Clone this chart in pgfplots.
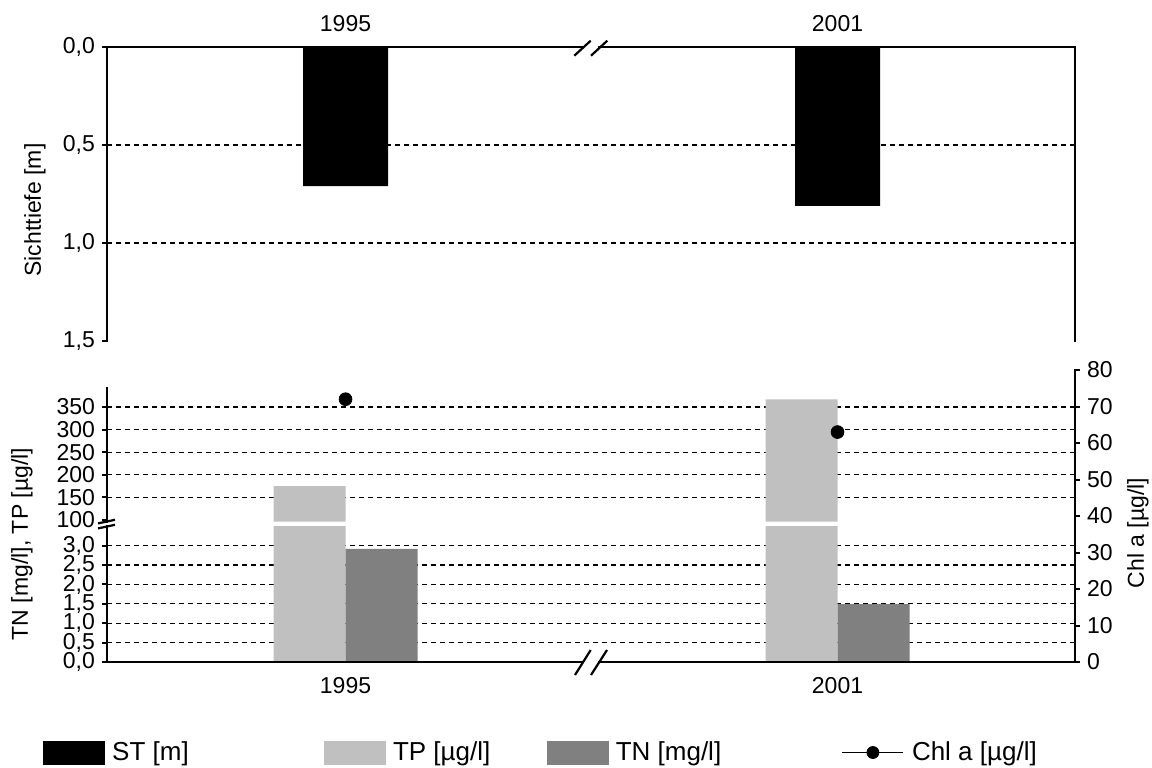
\documentclass[border=0pt]{standalone}
\usepackage{pgfplots}
\pgfplotsset{compat=1.18}
\usepackage{pgfplotstable}
\usepackage{fontspec}
\setmainfont{Liberation Sans}
\definecolor{tpgray}{HTML}{C0C0C0}
\definecolor{tngray}{HTML}{808080}

\pgfplotstableread{
x ST TP TN Chl
0 0.71 175 2.92 72
1 0.81 367 1.49 63
}\datatable

\pgfplotsset{
 base/.style={
  scale only axis, width=484pt, xmin=-0.4848, xmax=1.4827,
  axis line style={draw=none},
  tick align=outside,
  major tick length=2.5pt,
  tick style={black, line width=1pt},
  xtick style={draw=none},
  ticklabel style={font=\fontsize{11.5}{12}\selectfont},
  major grid style={black, line width=0.6pt, dash pattern=on 2.5pt off 2pt},
  extra y tick style={grid=major, major tick length=0pt},
  extra y tick labels={},
  anchor=south west,
 },
}

\begin{document}
\begin{tikzpicture}
\useasboundingbox (0,0) rectangle (576pt,383.5pt);

% ---- top panel: Sichttiefe
\begin{axis}[base, at={(53.5pt,213pt)}, height=147pt,
 y dir=reverse, ymin=0, ymax=1.5,
 ytick={0,0.5,1,1.5}, yticklabels={{0,0},{0,5},{1,0},{1,5}}, ytick pos=left,
 xtick={0,1}, xticklabels={1995,2001}, xticklabel pos=right,
 xticklabel style={yshift=1.5pt},
 extra y ticks={0.5,1},
 ybar, bar width=42.5pt]
\addplot[fill=black, draw=none] table[x=x,y=ST]{\datatable};
\end{axis}

% ---- bottom panel: lower segment (TN, mg/l)
\begin{axis}[base, at={(53.5pt,52.5pt)}, height=67.85pt,
 ymin=0, ymax=3.5,
 ytick={0,0.5,1,1.5,2,2.5,3},
 yticklabels={{0,0},{0,5},{1,0},{1,5},{2,0},{2,5},{3,0}}, ytick pos=left,
 extra y ticks={0.5,1,1.5,2,2.5,3},
 xtick={0,1}, xticklabels={1995,2001}, xtick pos=left,
 xticklabel style={yshift=-1.8pt},
 ybar, bar width=36pt]
\addplot[fill=tpgray, draw=none, bar shift=-18pt] table[x=x,y=TP]{\datatable};
\addplot[fill=tngray, draw=none, bar shift=18pt] table[x=x,y=TN]{\datatable};
\end{axis}

% ---- bottom panel: upper segment (TP, ug/l)
\begin{axis}[base, at={(53.5pt,122.65pt)}, height=66.85pt,
 ymin=96.2, ymax=392,
 ytick={100,150,200,250,300,350},
 yticklabels={100,150,200,250,300,350}, ytick pos=left,
 extra y ticks={150,200,250,300,350},
 xtick=\empty,
 ybar, bar width=36pt]
\addplot[fill=tpgray, draw=none, bar shift=-18pt] table[x=x,y=TP]{\datatable};
\end{axis}

% ---- bottom panel: Chl a (right axis) + legend
\begin{axis}[base, at={(53.5pt,52.5pt)}, height=146pt,
 ymin=0, ymax=80,
 ytick={0,10,20,30,40,50,60,70,80},
 yticklabels={0,10,20,30,40,50,60,70,80},
 ytick pos=right, yticklabel pos=right,
 xtick=\empty, clip=false,
 legend columns=4, legend cell align=left,
 legend style={at={(-0.0661,-0.3099)}, anchor=west, draw=none, fill=none,
   inner sep=0pt, column sep=0pt, nodes={inner sep=0pt},
   font=\fontsize{13}{14}\selectfont}]
\addplot[only marks, mark=*, mark size=3.2pt, black, forget plot] table[x=x,y=Chl]{\datatable};
\addlegendimage{legend image code/.code={\fill[black] (0pt,-5.75pt) rectangle (30.5pt,5.75pt);}}
\addlegendentry{\hspace{3.5pt}\makebox[106pt][l]{ST [m]}}
\addlegendimage{legend image code/.code={\fill[tpgray] (0pt,-5.75pt) rectangle (30.5pt,5.75pt);}}
\addlegendentry{\hspace{3.5pt}\makebox[77pt][l]{TP [µg/l]}}
\addlegendimage{legend image code/.code={\fill[tngray] (0pt,-5.75pt) rectangle (30.5pt,5.75pt);}}
\addlegendentry{\hspace{3.5pt}\makebox[113pt][l]{TN [mg/l]}}
\addlegendimage{legend image code/.code={\draw[black, line width=0.6pt] (0pt,0pt) -- (30.5pt,0pt); \fill[black] (15.25pt,0pt) circle (3pt);}}
\addlegendentry{\hspace{4pt}Chl a [µg/l]}
\end{axis}

% ---- axis lines with breaks
\begin{scope}[line width=1.4pt, line cap=rect]
 % top panel
 \draw (53.5pt,213pt) -- (53.5pt,360pt) -- (291.5pt,360pt);
 \draw (299.5pt,360pt) -- (537.5pt,360pt) -- (537.5pt,213pt);
 % bottom panel
 \draw (53.5pt,120.15pt) -- (53.5pt,52.5pt) -- (291.5pt,52.5pt);
 \draw (299.5pt,52.5pt) -- (537.5pt,52.5pt) -- (537.5pt,198.5pt);
 \draw (53.5pt,122.65pt) -- (53.5pt,189.5pt);
\end{scope}
\begin{scope}[line width=1.1pt]
 \draw (287.15pt,355.65pt) -- (295.35pt,363.15pt);
 \draw (295.5pt,355.65pt) -- (303.65pt,363.15pt);
 \draw (287.5pt,46pt) -- (295.35pt,58.5pt);
 \draw (295.5pt,46pt) -- (303.5pt,58.5pt);
 \draw (49pt,121.8pt) -- (57.5pt,123.6pt);
 \draw (49pt,119.3pt) -- (57.5pt,121.1pt);
\end{scope}

% ---- axis titles
\node[rotate=90, font=\fontsize{11.5}{12}\selectfont] at (17.5pt,278.5pt) {Sichttiefe [m]};
\node[rotate=90, font=\fontsize{11.5}{12}\selectfont] at (11pt,111.5pt) {TN [mg/l], TP [µg/l]};
\node[rotate=90, font=\fontsize{11.5}{12}\selectfont] at (569pt,117pt) {Chl a [µg/l]};
\end{tikzpicture}
\end{document}
